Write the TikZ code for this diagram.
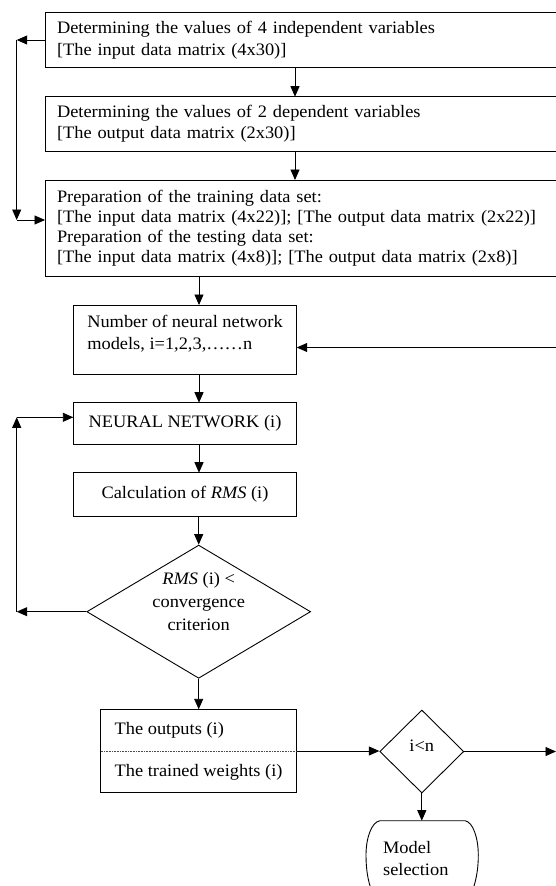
\documentclass[tikz,border=0pt]{standalone}
\usepackage{fontspec}
\setmainfont{Liberation Serif}[FakeStretch=1.05]
\usetikzlibrary{arrows.meta,shapes.geometric}
\begin{document}
\begin{tikzpicture}[x=1pt,y=-1pt,
  base/.style={font=\fontsize{17.5pt}{21.5pt}\selectfont},
  wbox/.style={base, draw, rectangle, anchor=north west, inner ysep=0pt, outer sep=0pt},
  arr/.style={-{Triangle[length=10.5pt,width=9pt]}},
  line width=0.9pt]
\useasboundingbox (0,0) rectangle (556,886);
\clip (0,0) rectangle (556,886);

% boxes
\node[wbox, text width=491pt, inner xsep=12pt, align=left, minimum height=55.4pt] (b1) at (45,12.3)
  {Determining the values of 4 independent variables\\{}[The input data matrix (4x30)]};
\node[wbox, text width=491pt, inner xsep=12pt, align=left, minimum height=54.3pt] (b2) at (45,96.7)
  {Determining the values of 2 dependent variables\\{}[The output data matrix (2x30)]};
\node[wbox, text width=491pt, inner xsep=12pt, align=left, minimum height=96.7pt,
  font=\fontsize{17.5pt}{20pt}\selectfont] (b3) at (45,180)
  {Preparation of the training data set:\\{}[The input data matrix (4x22)]; [The output data matrix (2x22)]\\Preparation of the testing data set:\\{}[The input data matrix (4x8)]; [The output data matrix (2x8)]};
\node[wbox, align=left, minimum width=223.4pt, minimum height=69.3pt,
  font=\fontsize{17.5pt}{22pt}\selectfont] (num) at (73.3,305)
  {Number of neural network\\models, i=1,2,3,……n\\[-7pt]\mbox{}};
\node[wbox, align=center, minimum width=223.4pt, minimum height=41.3pt] (nn) at (73.3,402.7)
  {NEURAL NETWORK (i)};
\node[wbox, align=center, minimum width=223.4pt, minimum height=43.8pt] (calc) at (73.3,472.7)
  {Calculation of \textit{RMS} (i)};
\node[base, draw, diamond, aspect=1.68, inner sep=0pt, minimum width=222.7pt, minimum height=132.2pt,
  align=center, font=\fontsize{17.5pt}{23pt}\selectfont] (d1) at (198.7,611.7)
  {\textit{RMS} (i) <\\convergence\\criterion\\[-3pt]\mbox{}};
\node[wbox, align=left, minimum width=195.8pt, minimum height=83.4pt] (out) at (100.7,709.3)
  {The outputs (i)\\[20.8pt]The trained weights (i)};
\draw[densely dotted, line width=0.6pt, black!70] (out.west) -- (out.east);
\node[base, draw, diamond, inner sep=0pt, minimum width=84pt, minimum height=83pt,
  text height=12pt, text depth=12pt] (d2) at (421.8,751.5) {i<n};
\node[base, anchor=north west, align=left, text width=78.9pt, inner xsep=16.7pt, inner ysep=0pt,
  minimum height=74.4pt, font=\fontsize{17.5pt}{21.7pt}\selectfont] (model) at (366,820.7)
  {Model\\selection};
\draw (380,820.7) -- (465,820.7) .. controls (473,822) and (478.3,838) .. (478.3,855)
  .. controls (478.3,870) and (476,881) .. (472,892);
\draw (380,820.7) .. controls (371.5,822) and (366,838) .. (366,855)
  .. controls (366,870) and (368,881) .. (372,892);

% helper coordinates
\coordinate (L) at (16.7,0);
\coordinate (Ltop) at (16.7,220);
\coordinate (Lnn) at (16.7,417.3);
\coordinate (mx) at (199,0);
\coordinate (tx) at (295,0);
\coordinate (Rin) at (556,347.5);
\coordinate (Rout) at (556,751.5);

% connectors
\draw[arr] (b1.west) -- (b1.west -| L);
\draw[arr] (b1.west -| L) -- (Ltop);
\draw[arr] (Ltop) -- (Ltop -| b3.west);
\draw[arr] (tx |- b1.south) -- (tx |- b2.north);
\draw[arr] (tx |- b2.south) -- (tx |- b3.north);
\draw[arr] (mx |- b3.south) -- (mx |- num.north);
\draw[arr] (Rin) -- (Rin -| num.east);
\draw[arr] (mx |- num.south) -- (mx |- nn.north);
\draw[arr] (mx |- nn.south) -- (mx |- calc.north);
\draw[arr] (d1.north |- calc.south) -- (d1.north);
\draw[arr] (d1.south) -- (d1.south |- out.north);
\draw[arr] (d1.west) -- (d1.west -| L);
\draw[arr] (d1.west -| L) -- (Lnn);
\draw[arr] (Lnn) -- (Lnn -| nn.west);
\draw[arr] (out.east) -- (out.east -| d2.west);
\draw[arr] (d2.east) -- (Rout);
\draw[arr] (d2.south) -- (d2.south |- model.north);
\end{tikzpicture}
\end{document}
